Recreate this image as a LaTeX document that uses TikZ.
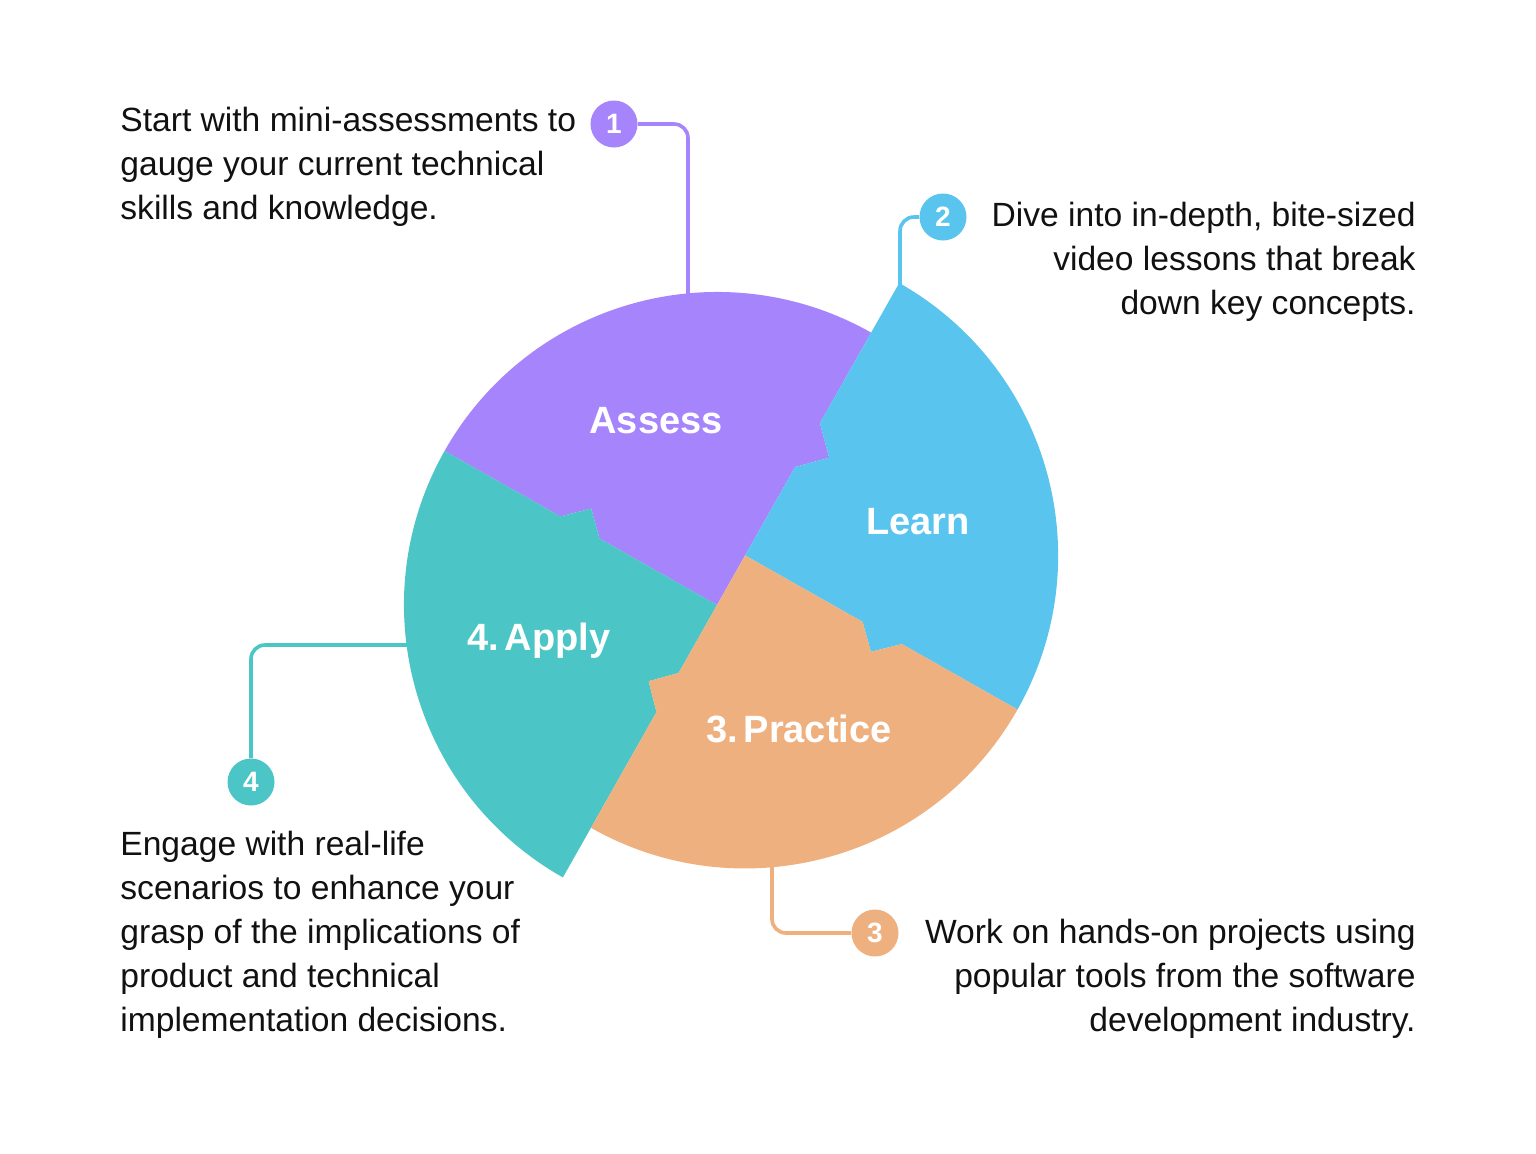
\documentclass[tikz,border=0pt]{standalone}
\usepackage{fontspec}
\setmainfont{Liberation Sans}
\usetikzlibrary{calc}
\definecolor{cpurple}{HTML}{A584FC}
\definecolor{cblue}{HTML}{59C5EE}
\definecolor{corange}{HTML}{EFB07F}
\definecolor{cteal}{HTML}{4BC5C5}
\definecolor{ctext}{HTML}{111111}
\tikzset{
  numdot/.style={circle,fill=#1,minimum size=23.5pt,inner sep=0pt,text=white,font=\bfseries\fontsize{14}{14}\selectfont},
  conn/.style={draw=#1,line width=1.8pt,rounded corners=7pt},
  desc/.style={inner sep=0pt,text=ctext,font=\fontsize{16.8}{22}\selectfont},
  seglabel/.style={inner sep=0pt,text=white,font=\bfseries\fontsize{19}{19}\selectfont}
}
\begin{document}
\begin{tikzpicture}[x=0.5pt,y=0.5pt]
\useasboundingbox (0,0) rectangle (1536,-1153);
\fill[white] (0,0) rectangle (1536,-1153);
\coordinate (A) at (717,-605);
\coordinate (B) at (745.1,-555.4);
% purple
\fill[cpurple] (A) -- ($(A)+(150.5:135)$) -- ($(A)+(150.5:157)+(60.5:22)$) -- ($(A)+(150.5:180)$)
  -- ($(A)+(150.5:313)$) arc[start angle=150.5,end angle=60.5,radius=313]
  -- ($(A)+(60.5:209)$) -- ($(A)+(60.5:183.5)+(-29.5:25)$) -- ($(A)+(60.5:158.5)$) -- cycle;
% teal
\fill[cteal] (A) -- ($(A)+(150.5:135)$) -- ($(A)+(150.5:157)+(60.5:22)$) -- ($(A)+(150.5:180)$)
  -- ($(A)+(150.5:313)$) arc[start angle=150.5,end angle=240.5,radius=313]
  -- ($(B)+(240.5:180)$) -- ($(B)+(240.5:157)+(150.5:22)$) -- ($(B)+(240.5:135)$) -- cycle;
% blue
\fill[cblue] (B) -- ($(B)+(-29.5:135)$) -- ($(B)+(-29.5:157)+(240.5:22)$) -- ($(B)+(-29.5:180)$)
  -- ($(B)+(-29.5:313)$) arc[start angle=-29.5,end angle=60.5,radius=313]
  -- ($(A)+(60.5:209)$) -- ($(A)+(60.5:183.5)+(-29.5:25)$) -- ($(A)+(60.5:158.5)$) -- cycle;
% orange
\fill[corange] (B) -- ($(B)+(-29.5:135)$) -- ($(B)+(-29.5:157)+(240.5:22)$) -- ($(B)+(-29.5:180)$)
  -- ($(B)+(-29.5:313)$) arc[start angle=-29.5,end angle=-119.5,radius=313]
  -- ($(B)+(240.5:180)$) -- ($(B)+(240.5:157)+(150.5:22)$) -- ($(B)+(240.5:135)$) -- cycle;
% segment labels
\node[seglabel] (lassess) at (656,-421) {Assess};
\node[seglabel] (llearn) at (918,-522) {Learn};
\node[seglabel] (lapply) at (539,-641) {4.\hspace{0.15em}Apply};
\node[seglabel] (lpractice) at (799,-729) {3.\hspace{0.15em}Practice};
% number dots
\node[numdot=cpurple] (n1) at (614,-124) {1};
\node[numdot=cblue] (n2) at (943,-217) {2};
\node[numdot=corange] (n3) at (875,-933) {3};
\node[numdot=cteal] (n4) at (251,-782) {4};
% connector ends
\coordinate (c1) at (688,-298);
\coordinate (c2) at (900,-292);
\coordinate (c3) at (772,-862);
\coordinate (c4) at (412,-645);
\draw[conn=cpurple] (n1) -- (688,-124) -- (c1);
\draw[conn=cblue] (n2) -- (900,-217) -- (c2);
\draw[conn=corange] (c3) -- (772,-933) -- (n3);
\draw[conn=cteal] (c4) -- (251,-645) -- (n4);
% descriptions (anchored at the baseline of the last line)
\node[desc,align=left,anchor=base west] (t1) at (120,-219) {Start with mini-assessments to\\gauge your current technical\\skills and knowledge.};
\node[desc,align=right,anchor=base east] (t2) at (1416,-314) {Dive into in-depth, bite-sized\\video lessons that break\\down key concepts.};
\node[desc,align=right,anchor=base east] (t3) at (1416,-1031) {Work on hands-on projects using\\popular tools from the software\\development industry.};
\node[desc,align=left,anchor=base west] (t4) at (120,-1031) {Engage with real-life\\scenarios to enhance your\\grasp of the implications of\\product and technical\\implementation decisions.};
\end{tikzpicture}
\end{document}
